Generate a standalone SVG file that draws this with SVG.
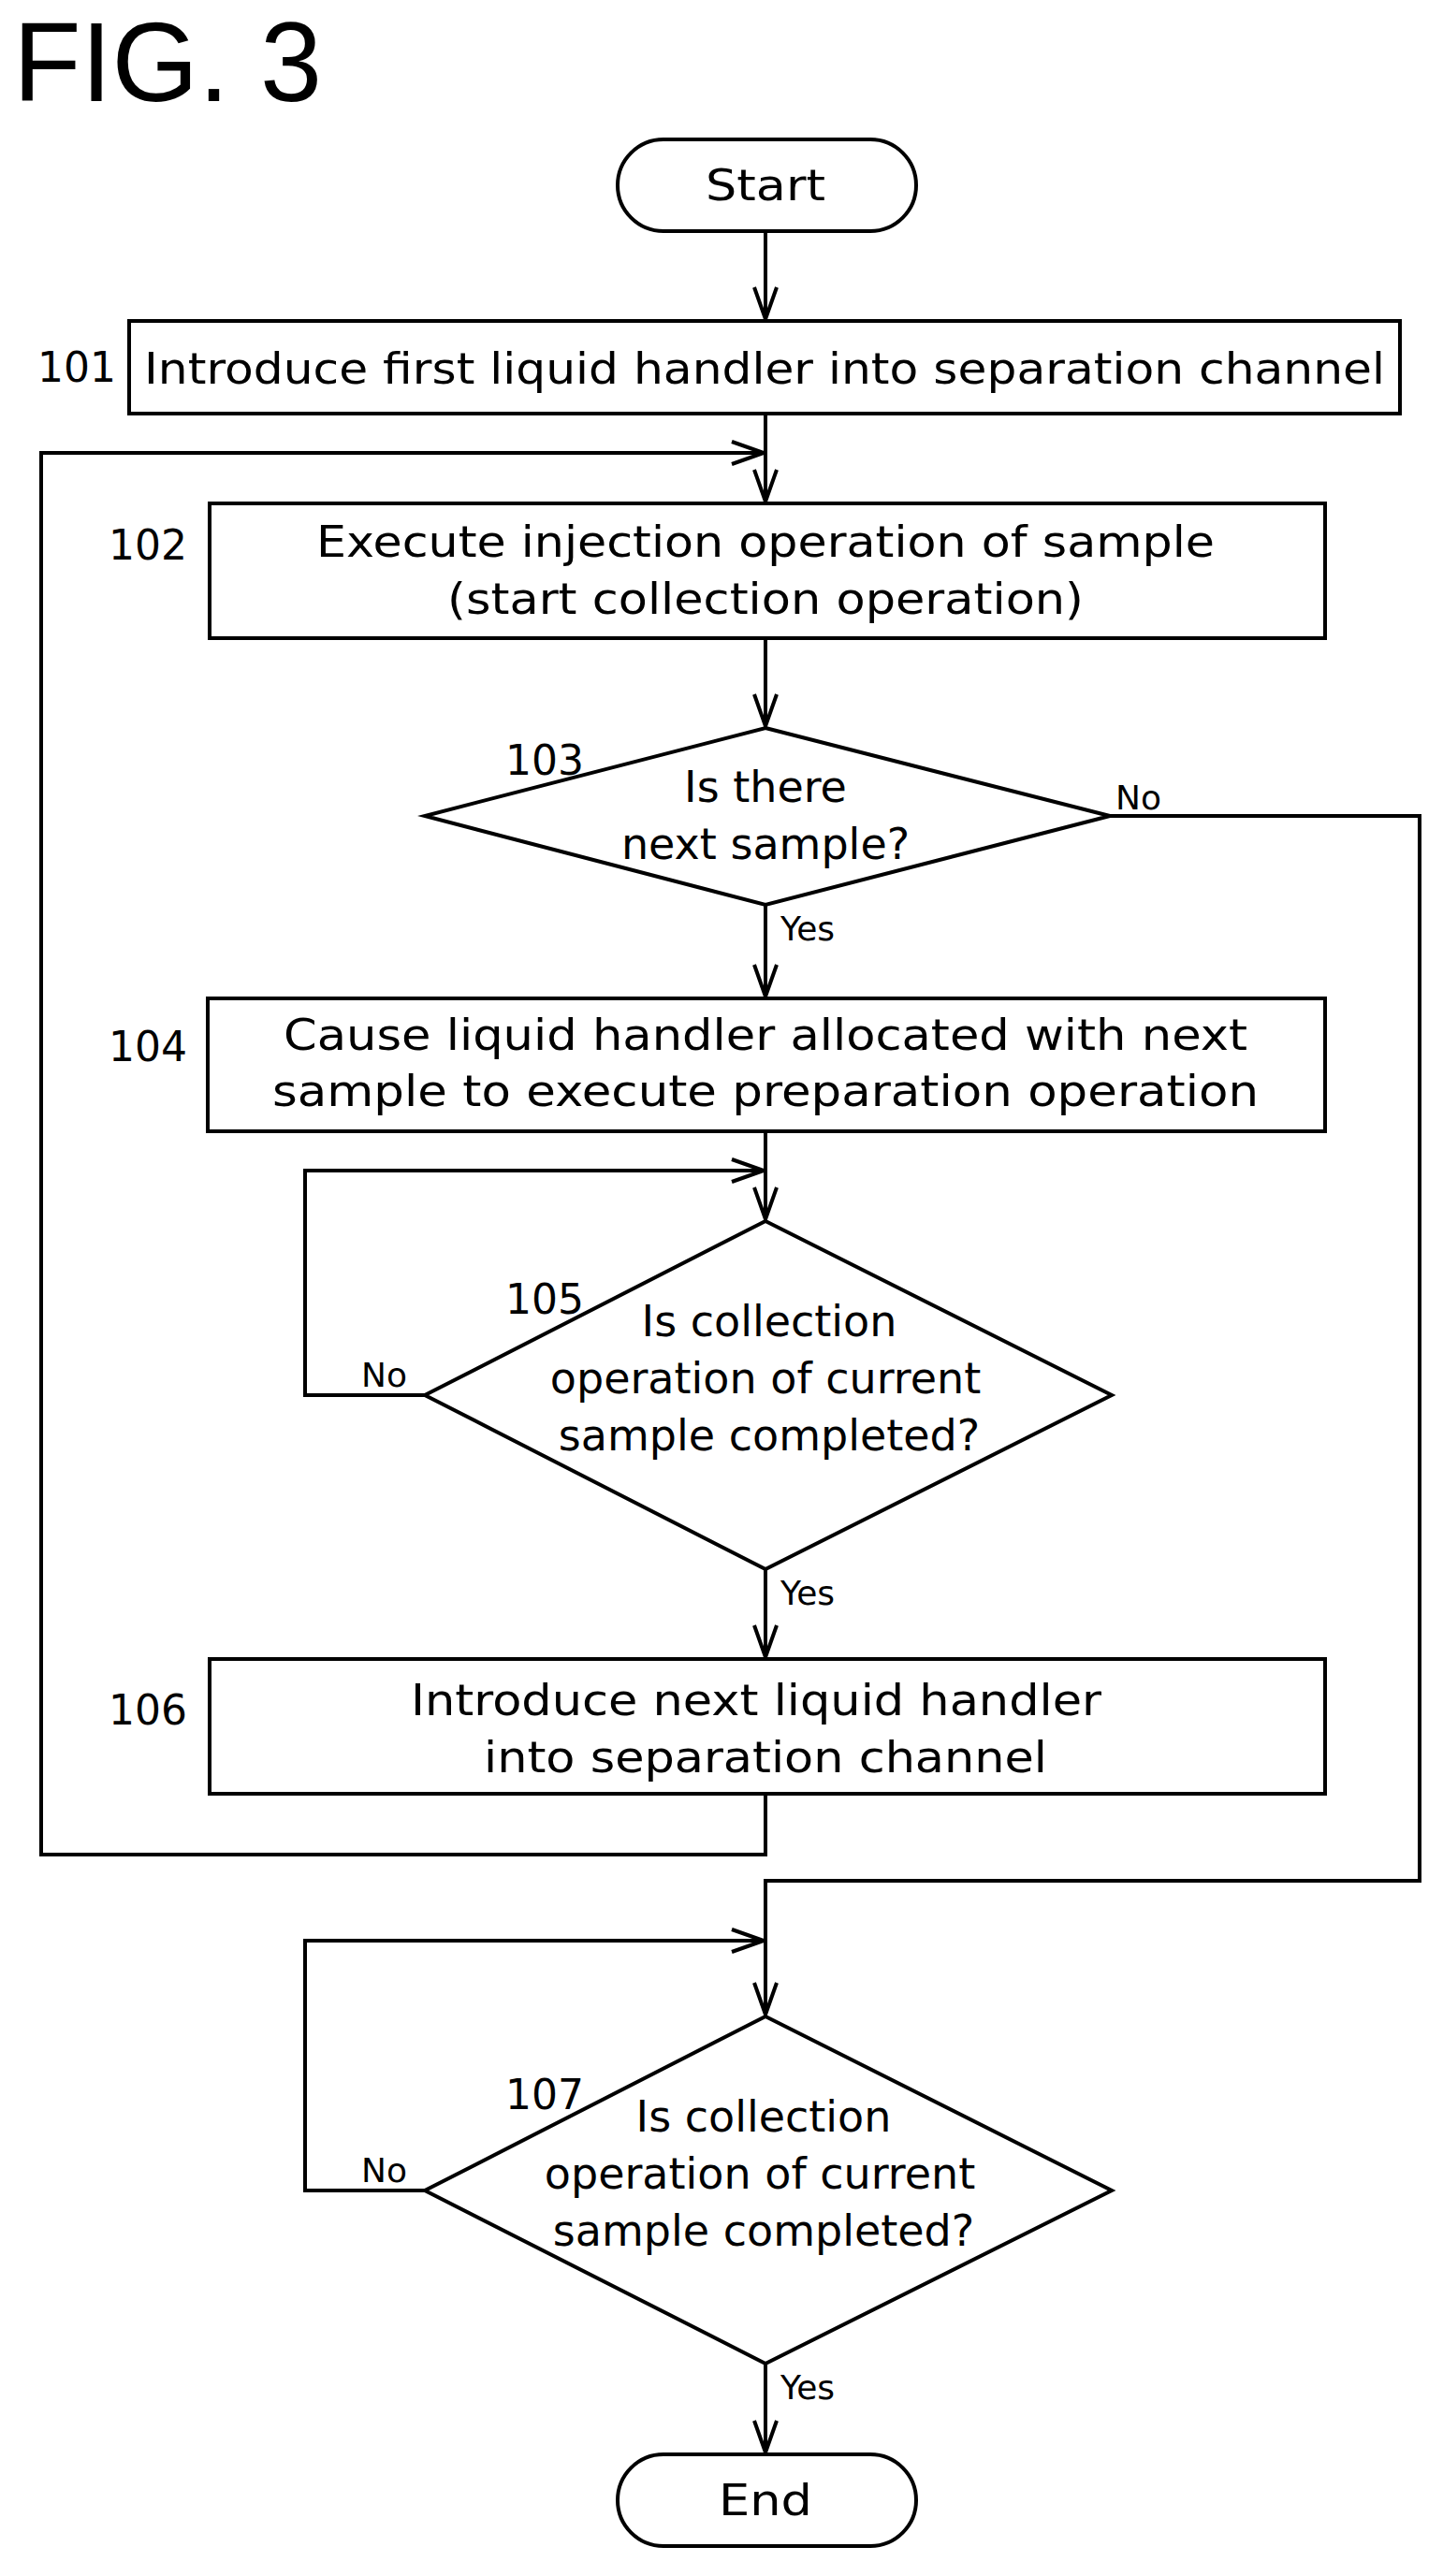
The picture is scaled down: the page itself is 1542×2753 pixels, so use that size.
<svg xmlns="http://www.w3.org/2000/svg" width="1542" height="2753" viewBox="0 0 1542 2753">
<style>
.s{fill:#fff;stroke:#000;stroke-width:4}
.c{fill:none;stroke:#000;stroke-width:4}
text{font-family:"DejaVu Sans","Liberation Sans",sans-serif;font-size:46px;fill:#000}
.m{text-anchor:middle}
.n{font-size:44px}
.l{font-size:36px}
</style>
<defs>
<marker id="a" markerWidth="40" markerHeight="40" refX="36" refY="14" orient="auto" markerUnits="userSpaceOnUse" viewBox="0 0 40 28">
<polyline points="2,2 36,14 2,26" fill="none" stroke="#000" stroke-width="4"/>
</marker>
</defs>
<text x="14" y="108" style="font-family:'Liberation Sans',sans-serif;font-size:120px" textLength="330" lengthAdjust="spacingAndGlyphs">FIG. 3</text>
<g id="start"><rect class="s" x="660" y="149" width="319" height="98" rx="49"/><text class="m" x="818" y="214" textLength="128" lengthAdjust="spacingAndGlyphs">Start</text></g>
<g id="n101"><rect class="s" x="138" y="343" width="1358" height="99"/><text x="40" y="408" class="n">101</text><text x="154" y="410" textLength="1326" lengthAdjust="spacingAndGlyphs">Introduce first liquid handler into separation channel</text></g>
<g id="n102"><rect class="s" x="224" y="538" width="1192" height="144"/><text x="116" y="598" class="n">102</text><text class="m" x="818" y="595" textLength="960" lengthAdjust="spacingAndGlyphs">Execute injection operation of sample</text><text class="m" x="818" y="656" textLength="680" lengthAdjust="spacingAndGlyphs">(start collection operation)</text></g>
<g id="n103"><polygon class="s" points="818,778 1186,872 818,967 454,872"/><text x="540" y="828" class="n">103</text><text class="m" x="818" y="857">Is there</text><text class="m" x="818" y="918">next sample?</text></g>
<g id="n104"><rect class="s" x="222" y="1067" width="1194" height="142"/><text x="116" y="1134" class="n">104</text><text class="m" x="818" y="1122" textLength="1030" lengthAdjust="spacingAndGlyphs">Cause liquid handler allocated with next</text><text class="m" x="818" y="1182" textLength="1054" lengthAdjust="spacingAndGlyphs">sample to execute preparation operation</text></g>
<g id="n105"><polygon class="s" points="818,1305 1188,1491 818,1677 454,1491"/><text x="540" y="1404" class="n">105</text><text class="m" x="822" y="1428">Is collection</text><text class="m" x="818" y="1489">operation of current</text><text class="m" x="822" y="1550">sample completed?</text></g>
<g id="n106"><rect class="s" x="224" y="1773" width="1192" height="144"/><text x="116" y="1843" class="n">106</text><text class="m" x="808" y="1833" textLength="738" lengthAdjust="spacingAndGlyphs">Introduce next liquid handler</text><text class="m" x="818" y="1894" textLength="602" lengthAdjust="spacingAndGlyphs">into separation channel</text></g>
<g id="n107"><polygon class="s" points="818,2155 1188,2341 818,2526 454,2341"/><text x="540" y="2254" class="n">107</text><text class="m" x="816" y="2278">Is collection</text><text class="m" x="812" y="2339">operation of current</text><text class="m" x="816" y="2400">sample completed?</text></g>
<g id="end"><rect class="s" x="660" y="2623" width="319" height="98" rx="49"/><text class="m" x="818" y="2688" textLength="100" lengthAdjust="spacingAndGlyphs">End</text></g>
<g id="connectors">
<line class="c" x1="818" y1="247" x2="818" y2="341" marker-end="url(#a)"/>
<line class="c" x1="818" y1="442" x2="818" y2="536" marker-end="url(#a)"/>
<polyline class="c" points="818,1917 818,1982 44,1982 44,484 816,484" marker-end="url(#a)"/>
<line class="c" x1="818" y1="682" x2="818" y2="776" marker-end="url(#a)"/>
<line class="c" x1="818" y1="967" x2="818" y2="1065" marker-end="url(#a)"/>
<text x="834" y="1005" class="l">Yes</text>
<polyline class="c" points="1186,872 1517,872 1517,2010 818,2010 818,2153" marker-end="url(#a)"/>
<text x="1192" y="865" class="l">No</text>
<line class="c" x1="818" y1="1209" x2="818" y2="1303" marker-end="url(#a)"/>
<polyline class="c" points="454,1491 326,1491 326,1251 816,1251" marker-end="url(#a)"/>
<text x="386" y="1482" class="l">No</text>
<line class="c" x1="818" y1="1677" x2="818" y2="1771" marker-end="url(#a)"/>
<text x="834" y="1715" class="l">Yes</text>
<polyline class="c" points="454,2341 326,2341 326,2074 816,2074" marker-end="url(#a)"/>
<text x="386" y="2332" class="l">No</text>
<line class="c" x1="818" y1="2526" x2="818" y2="2621" marker-end="url(#a)"/>
<text x="834" y="2564" class="l">Yes</text>
</g>
</svg>
